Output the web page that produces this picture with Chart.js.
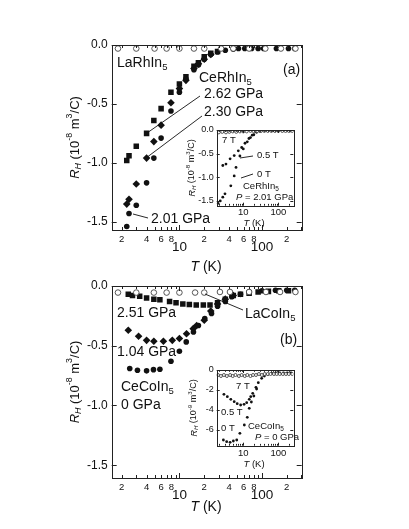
<!DOCTYPE html>
<html>
<head>
<meta charset="utf-8">
<script src="https://cdn.jsdelivr.net/npm/chart.js@4.4.1/dist/chart.umd.min.js"></script>
<style>
body { margin: 0; background: #fff; }
#wrap { position: relative; width: 409px; height: 529px; }
canvas { position: absolute; left: 0; top: 0; }
</style>
</head>
<body>
<div id="wrap">
  <canvas id="ca" width="409" height="529"></canvas>
  <canvas id="cb" width="409" height="529"></canvas>
  <canvas id="cai" width="409" height="529"></canvas>
  <canvas id="cbi" width="409" height="529"></canvas>
</div>
<script>
// ---- panel (a): CeRhIn5 under pressure, LaRhIn5 reference (R_H in 1e-8 m3/C)
var tLaRh = [1.8, 3.0, 5.0, 7.0, 10, 15, 20, 32, 45, 70, 110, 170, 255];
var rLaRh = [-0.03, -0.03, -0.03, -0.03, -0.03, -0.03, -0.03, -0.03, -0.03, -0.03, -0.03, -0.03, -0.03];
var tRh262 = [2.3, 2.45, 3.0, 4.0, 4.9, 6.0, 7.9, 10, 12, 15, 17, 20, 24, 29];
var rRh262 = [-0.98, -0.94, -0.86, -0.75, -0.64, -0.54, -0.40, -0.33, -0.27, -0.18, -0.15, -0.10, -0.07, -0.055];
var tRh230 = [2.3, 2.45, 3.0, 4.0, 4.9, 6.0, 7.9, 10, 12, 15, 17, 20, 24];
var rRh230 = [-1.35, -1.31, -1.18, -0.96, -0.82, -0.68, -0.49, -0.37, -0.30, -0.20, -0.16, -0.12, -0.08];
var tRh201 = [2.3, 2.45, 3.0, 4.0, 4.9, 6.0, 7.9, 10, 12, 15, 17, 20, 24, 29, 36, 45, 52, 62, 75, 90, 105, 150, 210, 250];
var rRh201 = [-1.54, -1.43, -1.36, -1.17, -0.96, -0.79, -0.56, -0.40, -0.29, -0.21, -0.17, -0.12, -0.08, -0.06, -0.045, -0.035, -0.03, -0.03, -0.03, -0.03, -0.03, -0.03, -0.03, -0.03];

// ---- inset (a): CeRhIn5, P = 2.01 GPa, three fields
var tRh7T = [2.0, 2.5, 3.2, 4.0, 5.0, 6.3, 8, 10, 12.5, 16, 20, 25, 32, 40, 50, 63, 80, 100, 130, 160, 200, 250];
var rRh7T = [-0.05, -0.04, -0.05, -0.04, -0.03, -0.04, -0.03, -0.03, -0.03, -0.02, -0.03, -0.02, -0.02, -0.02, -0.02, -0.02, -0.02, -0.02, -0.02, -0.02, -0.02, -0.02];
var tRh05T = [2.6, 3.2, 4.2, 5.5, 7.2, 9.0, 11.2, 14.5, 18, 24, 30, 40, 50, 65, 80, 100, 130, 170, 220, 260];
var rRh05T = [-0.75, -0.72, -0.61, -0.54, -0.44, -0.37, -0.28, -0.18, -0.11, -0.05, -0.03, -0.02, -0.02, -0.02, -0.02, -0.02, -0.02, -0.02, -0.02, -0.02];
var tRh0T = [1.9, 2.2, 2.6, 3.0, 4.4, 5.5, 6.2, 8, 10, 13, 16, 20];
var rRh0T = [-1.55, -1.50, -1.42, -1.35, -1.18, -0.97, -0.79, -0.55, -0.40, -0.25, -0.16, -0.10];

// ---- panel (b): CeCoIn5 under pressure, LaCoIn5 reference
var tLaCo = [1.8, 3.0, 4.9, 7.0, 10, 15.5, 20, 31, 41, 70, 112, 166, 255];
var rLaCo = [-0.055, -0.055, -0.055, -0.055, -0.055, -0.055, -0.055, -0.05, -0.05, -0.05, -0.05, -0.05, -0.05];
var tCo251 = [2.4, 2.7, 3.3, 4.0, 4.9, 5.8, 7.6, 9.1, 11, 13.2, 16, 19.5, 23.5, 29, 36, 45, 55, 70, 90, 120, 160, 210];
var rCo251 = [-0.07, -0.08, -0.085, -0.10, -0.11, -0.115, -0.13, -0.14, -0.15, -0.155, -0.16, -0.16, -0.16, -0.14, -0.11, -0.08, -0.07, -0.06, -0.05, -0.045, -0.04, -0.04];
var tCo104 = [2.4, 3.2, 4.0, 4.9, 6.4, 8.2, 10, 12.2, 14.7, 16.2, 20, 24, 29, 36, 45];
var rCo104 = [-0.37, -0.42, -0.455, -0.463, -0.463, -0.455, -0.44, -0.40, -0.357, -0.33, -0.287, -0.21, -0.15, -0.11, -0.08];
var tCo0 = [2.5, 3.1, 4.0, 4.85, 5.8, 7.9, 10, 12.1, 14.8, 17, 20.3, 24.5, 29, 36, 43, 55, 70, 100, 146, 200, 250];
var rCo0 = [-0.69, -0.705, -0.71, -0.70, -0.697, -0.63, -0.546, -0.468, -0.385, -0.33, -0.273, -0.23, -0.17, -0.13, -0.09, -0.07, -0.05, -0.04, -0.035, -0.035, -0.035];

// ---- inset (b): CeCoIn5, P = 0 GPa (R_H in 1e-9 m3/C)
var tCo7T = [1.9, 2.3, 2.8, 3.4, 4.2, 5, 6, 7.5, 9, 11, 13, 16, 19, 23, 28, 34, 41, 50, 60, 75, 90, 110, 135, 165, 200, 250];
var rCo7T = [-0.5, -0.6, -0.5, -0.6, -0.5, -0.6, -0.5, -0.6, -0.5, -0.6, -0.5, -0.6, -0.5, -0.5, -0.4, -0.5, -0.4, -0.4, -0.4, -0.4, -0.4, -0.4, -0.4, -0.4, -0.4, -0.4];
var tCo05T = [2.8, 3.5, 4.4, 5.5, 6.7, 8.4, 10.5, 12.5, 14.8, 16.3, 18.6, 23, 26.8, 33.5, 40, 50, 65, 85, 110, 140, 180, 230];
var rCo05T = [-2.43, -2.67, -2.93, -3.17, -3.37, -3.5, -3.43, -3.27, -2.93, -2.67, -2.33, -1.73, -1.27, -0.83, -0.6, -0.45, -0.35, -0.3, -0.3, -0.3, -0.3, -0.3];
var tCo0T = [2.7, 3.35, 4.2, 5.2, 6.5, 8.0, 10.7, 13, 14.8, 17, 20, 24];
var rCo0T = [-7.0, -7.17, -7.23, -7.1, -7.0, -6.33, -5.5, -4.73, -3.83, -3.2, -2.6, -1.9];

// ---- ticks
var yTicksMain = [0, -0.5, -1.0, -1.5];
var yTicksInA = [0, -0.5, -1.0, -1.5];
var yTicksInB = [0, -2, -4, -6];
var xMajor = [10, 100];
var xMinor = [2, 3, 4, 5, 6, 7, 8, 9, 20, 30, 40, 50, 60, 70, 80, 90, 200, 300];
var xMinorLabels = [2, 4, 6, 8, 20, 40, 60, 80, 200];

var FONT = "'Liberation Sans', Arial, Helvetica, sans-serif";
var INK = '#111';

function pts(t, r) {
  return t.map(function (v, i) { return { x: v, y: r[i] }; });
}

function fnt(size, it) { return (it ? 'italic ' : '') + size + 'px ' + FONT; }

// parts: [text, kind]  kind: 'n', 'i', 'sub', 'sup', 'isub'
function rich(ctx, parts, x, y, size, align, rot) {
  ctx.save();
  ctx.translate(x, y);
  if (rot) ctx.rotate(rot);
  var w = 0, items = [];
  parts.forEach(function (p) {
    var k = p[1] || 'n';
    var small = k.indexOf('sub') >= 0 || k.indexOf('sup') >= 0;
    var s = small ? size * 0.68 : size;
    var f = fnt(s, k.charAt(0) === 'i');
    ctx.font = f;
    var ww = ctx.measureText(p[0]).width;
    var dy = k.indexOf('sub') >= 0 ? size * 0.3 : (k.indexOf('sup') >= 0 ? -size * 0.38 : 0);
    items.push({ t: p[0], f: f, w: ww, dy: dy });
    w += ww;
  });
  var x0 = align === 'center' ? -w / 2 : (align === 'right' ? -w : 0);
  ctx.textBaseline = 'middle';
  ctx.textAlign = 'left';
  ctx.fillStyle = INK;
  items.forEach(function (it) { ctx.font = it.f; ctx.fillText(it.t, x0, it.dy); x0 += it.w; });
  ctx.restore();
}

function line(ctx, x1, y1, x2, y2) {
  ctx.save();
  ctx.strokeStyle = INK;
  ctx.lineWidth = 0.9;
  ctx.beginPath(); ctx.moveTo(x1, y1); ctx.lineTo(x2, y2); ctx.stroke();
  ctx.restore();
}

// frame, inward ticks, tick labels, titles and notes
function deco(cfg) {
  return {
    id: 'deco',
    beforeDatasetsDraw: function (chart) {
      var a = chart.chartArea, ctx = chart.ctx;
      if (cfg.fill) {
        ctx.save(); ctx.fillStyle = '#fff';
        ctx.fillRect(a.left, a.top, a.right - a.left, a.bottom - a.top);
        ctx.restore();
      }
    },
    afterDatasetsDraw: function (chart) {
      var a = chart.chartArea, ctx = chart.ctx;
      var xs = chart.scales.x, ys = chart.scales.y;
      ctx.save();
      ctx.strokeStyle = '#222';
      ctx.lineWidth = 1;
      ctx.strokeRect(Math.round(a.left) + 0.5, Math.round(a.top) + 0.5,
        Math.round(a.right - a.left), Math.round(a.bottom - a.top));
      ctx.beginPath();
      xMajor.concat(xMinor).forEach(function (v) {
        var len = xMajor.indexOf(v) >= 0 ? cfg.tick : cfg.tick * 0.6;
        var px = Math.round(xs.getPixelForValue(v)) + 0.5;
        if (px <= a.left || px >= a.right) return;
        ctx.moveTo(px, a.bottom); ctx.lineTo(px, a.bottom - len);
        ctx.moveTo(px, a.top); ctx.lineTo(px, a.top + len);
      });
      cfg.yTicks.forEach(function (v) {
        var py = Math.round(ys.getPixelForValue(v)) + 0.5;
        ctx.moveTo(a.left, py); ctx.lineTo(a.left + cfg.tick, py);
        ctx.moveTo(a.right, py); ctx.lineTo(a.right - cfg.tick, py);
      });
      ctx.stroke();
      ctx.restore();

      ctx.save();
      ctx.fillStyle = INK;
      ctx.textBaseline = 'middle';
      ctx.textAlign = 'right';
      ctx.font = fnt(cfg.ySize, false);
      cfg.yTicks.forEach(function (v) {
        ctx.fillText(v.toFixed(cfg.yDec), a.left - cfg.yGap, ys.getPixelForValue(v));
      });
      ctx.textAlign = 'center';
      if (cfg.minorLabels) {
        ctx.font = fnt(cfg.minorSize, false);
        xMinorLabels.forEach(function (v) {
          ctx.fillText(String(v).charAt(0), xs.getPixelForValue(v), a.bottom + cfg.minorGap);
        });
      }
      ctx.font = fnt(cfg.majorSize, false);
      xMajor.forEach(function (v) {
        ctx.fillText(String(v), xs.getPixelForValue(v), a.bottom + cfg.majorGap);
      });
      ctx.restore();

      rich(ctx, [['T', 'i'], [' (K)', 'n']], cfg.xTitle[0], cfg.xTitle[1], cfg.titleSize, 'center');
      rich(ctx, [['R', 'i'], ['H', 'isub'], [' (10', 'n'], [cfg.exp, 'sup'], [' m', 'n'], ['3', 'sup'], ['/C)', 'n']],
        cfg.yTitle[0], cfg.yTitle[1], cfg.yTitleSize, 'center', -Math.PI / 2);
      cfg.notes.forEach(function (n) { rich(ctx, n.p, n.x, n.y, cfg.noteSize, 'left'); });
      cfg.lines.forEach(function (l) { line(ctx, l[0], l[1], l[2], l[3]); });
    }
  };
}

function options(box, xmin, xmax, ymin, ymax) {
  return {
    responsive: false,
    animation: false,
    events: [],
    layout: { padding: { left: box[0], top: box[1], right: 409 - box[2], bottom: 529 - box[3] } },
    plugins: { legend: { display: false }, tooltip: { enabled: false } },
    scales: {
      x: { type: 'logarithmic', display: false, min: xmin, max: xmax },
      y: { type: 'linear', display: false, min: ymin, max: ymax }
    }
  };
}

function ds(t, r, style, r0, open) {
  return {
    data: pts(t, r),
    pointStyle: style,
    pointRadius: r0,
    pointBorderWidth: open ? 0.9 : 0,
    pointBorderColor: open ? '#444' : INK,
    pointBackgroundColor: open ? 'rgba(255,255,255,1)' : INK,
    showLine: false
  };
}

var mainCfgA = {
  fill: false, tick: 5, yTicks: yTicksMain, yDec: 1, ySize: 12, yGap: 4,
  minorLabels: true, minorSize: 9.5, minorGap: 9, majorSize: 13.5, majorGap: 17,
  xTitle: [206, 267], titleSize: 14, yTitle: [75, 137.5], yTitleSize: 13, exp: '-8', noteSize: 14,
  notes: [
    { p: [['LaRhIn', 'n'], ['5', 'sub']], x: 117, y: 63 },
    { p: [['(a)', 'n']], x: 283, y: 70 },
    { p: [['CeRhIn', 'n'], ['5', 'sub']], x: 199, y: 78 },
    { p: [['2.62 GPa', 'n']], x: 204, y: 94 },
    { p: [['2.30 GPa', 'n']], x: 204, y: 112 },
    { p: [['2.01 GPa', 'n']], x: 151, y: 219 }
  ],
  lines: [[147, 133, 200, 96], [146, 158, 202, 116], [133, 214, 148, 218]]
};

var mainCfgB = {
  fill: false, tick: 5, yTicks: yTicksMain, yDec: 1, ySize: 12, yGap: 4,
  minorLabels: true, minorSize: 9.5, minorGap: 9, majorSize: 13.5, majorGap: 17,
  xTitle: [206, 507], titleSize: 14, yTitle: [75, 382], yTitleSize: 13, exp: '-8', noteSize: 14,
  notes: [
    { p: [['2.51 GPa', 'n']], x: 117, y: 313 },
    { p: [['1.04 GPa', 'n']], x: 117, y: 352 },
    { p: [['CeCoIn', 'n'], ['5', 'sub']], x: 121, y: 387 },
    { p: [['0 GPa', 'n']], x: 121, y: 405 },
    { p: [['LaCoIn', 'n'], ['5', 'sub']], x: 245, y: 314 },
    { p: [['(b)', 'n']], x: 280, y: 340 }
  ],
  lines: [[205, 294, 243, 310]]
};

var inCfgA = {
  fill: true, tick: 3, yTicks: yTicksInA, yDec: 1, ySize: 9, yGap: 3,
  minorLabels: false, majorSize: 9.5, majorGap: 7,
  xTitle: [254, 223], titleSize: 9.5, yTitle: [192, 168], yTitleSize: 9, exp: '-8', noteSize: 9.5,
  notes: [
    { p: [['7 T', 'n']], x: 222, y: 140 },
    { p: [['0.5 T', 'n']], x: 257, y: 155 },
    { p: [['0 T', 'n']], x: 257, y: 174 },
    { p: [['CeRhIn', 'n'], ['5', 'sub']], x: 243, y: 186 },
    { p: [['P', 'i'], [' = 2.01 GPa', 'n']], x: 236, y: 197 }
  ],
  lines: [[240, 158, 253, 156], [241, 178, 253, 174]]
};

var inCfgB = {
  fill: true, tick: 3, yTicks: yTicksInB, yDec: 0, ySize: 9, yGap: 3,
  minorLabels: false, majorSize: 9.5, majorGap: 8,
  xTitle: [254, 464], titleSize: 9.5, yTitle: [194, 408], yTitleSize: 9, exp: '-9', noteSize: 9.5,
  notes: [
    { p: [['7 T', 'n']], x: 236, y: 386 },
    { p: [['0.5 T', 'n']], x: 221, y: 412 },
    { p: [['0 T', 'n']], x: 221, y: 428 },
    { p: [['CeCoIn', 'n'], ['5', 'sub']], x: 248, y: 426 },
    { p: [['P', 'i'], [' = 0 GPa', 'n']], x: 255, y: 437 }
  ],
  lines: []
};

new Chart(document.getElementById('ca'), {
  type: 'scatter',
  data: { datasets: [
    ds(tLaRh, rLaRh, 'circle', 2.8, true),
    ds(tRh201, rRh201, 'circle', 2.8, false),
    ds(tRh230, rRh230, 'rectRot', 3.8, false),
    ds(tRh262, rRh262, 'rect', 3.9, false)
  ] },
  options: options([111.7, 45, 301.7, 230], 1.511, 303.7, -1.57, 0),
  plugins: [deco(mainCfgA)]
});

new Chart(document.getElementById('cb'), {
  type: 'scatter',
  data: { datasets: [
    ds(tLaCo, rLaCo, 'circle', 2.8, true),
    ds(tCo0, rCo0, 'circle', 2.8, false),
    ds(tCo104, rCo104, 'rectRot', 3.8, false),
    ds(tCo251, rCo251, 'rect', 3.9, false)
  ] },
  options: options([111.7, 286, 301.7, 478], 1.511, 303.7, -1.607, 0),
  plugins: [deco(mainCfgB)]
});

new Chart(document.getElementById('cai'), {
  type: 'scatter',
  data: { datasets: [
    ds(tRh7T, rRh7T, 'circle', 1.5, true),
    ds(tRh05T, rRh05T, 'circle', 1.4, false),
    ds(tRh0T, rRh0T, 'circle', 1.4, false)
  ] },
  options: options([216.7, 130, 293.3, 205.7], 1.74, 268, -1.6, 0),
  plugins: [deco(inCfgA)]
});

new Chart(document.getElementById('cbi'), {
  type: 'scatter',
  data: { datasets: [
    ds(tCo7T, rCo7T, 'circle', 1.5, true),
    ds(tCo05T, rCo05T, 'circle', 1.4, false),
    ds(tCo0T, rCo0T, 'circle', 1.4, false)
  ] },
  options: options([216.7, 370, 293.3, 445.7], 1.74, 268, -7.57, 0),
  plugins: [deco(inCfgB)]
});
</script>
</body>
</html>
